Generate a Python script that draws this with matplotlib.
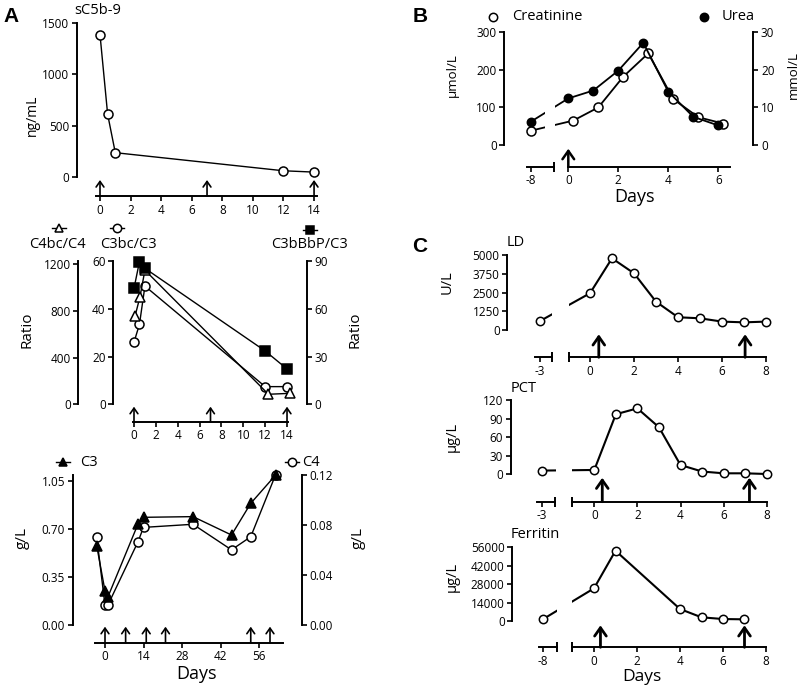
import matplotlib.pyplot as plt
from matplotlib.lines import Line2D

W, H = 800, 685

plt.rcParams['font.family'] = ['Open Sans', 'DejaVu Sans']
plt.rcParams['axes.linewidth'] = 1.4
plt.rcParams['xtick.major.width'] = 1.2
plt.rcParams['ytick.major.width'] = 1.2
plt.rcParams['xtick.major.size'] = 3.5
plt.rcParams['ytick.major.size'] = 3.5
plt.rcParams['xtick.labelsize'] = 8.5
plt.rcParams['ytick.labelsize'] = 8.5
plt.rcParams['xtick.major.pad'] = 2
plt.rcParams['ytick.major.pad'] = 2

# ---- panel A, sC5b-9 ----
sc5b9_days = [0, 0.5, 1, 12, 14]
sc5b9 = [1390, 610, 235, 58, 45]
sc5b9_doses = [0, 7, 14]

# ---- panel A, activation ratios ----
ratio_days = [0, 0.5, 1, 12, 14]
ratio_days_c4 = [0.1, 0.55, 1, 12.3, 14.3]
c4bc_c4 = [757, 923, 1150, 86, 94]
c3bc_c3 = [26, 33.5, 49.5, 7.4, 7.4]
c3bbbp_c3 = [72.8, 89.6, 85.4, 33.5, 22.2]
ratio_doses = [0, 7, 14]

# ---- panel A, C3 / C4 ----
comp_days = [-3, 0, 1, 12, 14, 32, 46, 53, 62]
c3 = [0.574, 0.246, 0.20, 0.734, 0.783, 0.788, 0.654, 0.885, 1.09]
c4 = [0.070, 0.0155, 0.0155, 0.0665, 0.078, 0.0805, 0.060, 0.0705, 0.12]
comp_doses = [0, 7.5, 15, 22, 53, 60]

# ---- panel B ----
urea_days = [-8, 0, 1, 2, 3, 4, 5, 6]
urea = [6.2, 12.4, 14.5, 19.8, 27.2, 14.2, 7.5, 5.2]
creat_days = [-8, 0.2, 1.2, 2.2, 3.2, 4.2, 5.2, 6.2]
creatinine = [38, 65, 100, 182, 244, 122, 74, 57]
renal_doses = [0]

# ---- panel C ----
ld_days = [-3, 0, 1, 2, 3, 4, 5, 6, 7, 8]
ld = [600, 2450, 4780, 3780, 1890, 850, 780, 560, 510, 560]
ld_doses = [0.4, 7.05]
pct_days = [-3, 0, 1, 2, 3, 4, 5, 6, 7, 8]
pct = [6, 7, 97, 106.5, 76, 15, 4.5, 1.6, 1.6, 0.5]
pct_doses = [0.37, 7.2]
fer_days = [-8, 0, 1, 4, 5, 6, 7]
ferritin = [1500, 24800, 53400, 9100, 2800, 1500, 1260]
fer_doses = [0.3, 7.0]

fig = plt.figure(figsize=(W / 100, H / 100), dpi=100)


def ftext(x, y, s, **kw):
    fig.text(x / W, 1 - y / H, s, **kw)


def frame(box, x0, ppd, y0, ppu):
    left, top, right, bottom = box
    ax = fig.add_axes([left / W, 1 - bottom / H, (right - left) / W, (bottom - top) / H])
    ax.set_xlim((left - x0) / ppd, (right - x0) / ppd)
    ax.set_ylim((y0 - bottom) / ppu, (y0 - top) / ppu)
    for side in ['top', 'right']:
        ax.spines[side].set_visible(False)
    ax.patch.set_visible(False)
    return ax


def yaxis(ax, ymax, ticks, labels=None):
    ax.spines['left'].set_bounds(0, ymax)
    ax.set_yticks(ticks, labels)


def twin(ax, box, y0, ppu, ymax, ticks, labels=None, side='right', outward=0):
    left, top, right, bottom = box
    t = ax.twinx()
    t.set_ylim((y0 - bottom) / ppu, (y0 - top) / ppu)
    for s in t.spines.values():
        s.set_visible(False)
    sp = t.spines[side]
    sp.set_visible(True)
    sp.set_bounds(0, ymax)
    if outward:
        sp.set_position(('outward', outward))
    t.yaxis.set_ticks_position(side)
    t.yaxis.set_label_position(side)
    t.set_yticks(ticks, labels)
    return t


def xaxis(ax, lo, hi, ticks, labels=None):
    ax.spines['bottom'].set_bounds(lo, hi)
    ax.set_xticks(ticks, labels)


def stub(ax, lo, hi, main_cap=None):
    tr = ax.get_xaxis_transform()
    ax.plot([lo, hi], [0, 0], color='k', lw=1.4, transform=tr, clip_on=False)
    caps = [hi] if main_cap is None else [hi, main_cap]
    ax.plot(caps, [0] * len(caps), ls='none', marker='|', ms=7, mew=1.4,
            color='k', transform=tr, clip_on=False)


def arrows(ax, days, h_px, lw, ms):
    tr = ax.get_xaxis_transform()
    h = h_px / ax.bbox.height
    for d in days:
        ax.annotate('', xy=(d, h), xytext=(d, 0), xycoords=tr, textcoords=tr,
                    annotation_clip=False,
                    arrowprops=dict(arrowstyle='->,head_length=0.5,head_width=0.35',
                                    lw=lw, color='k', shrinkA=0, shrinkB=0,
                                    mutation_scale=ms))


def series(ax, x, y, marker, filled, lw=1.0, ms=6.5, gap=None):
    ax.plot(x, y, color='k', lw=lw, zorder=2, clip_on=False)
    if gap:
        lo, hi = ax.get_ylim()
        ax.axvspan(gap[0], gap[1], ymin=(0 - lo) / (hi - lo) + 0.02, ymax=1,
                   color='white', lw=0, zorder=2.5)
    ax.plot(x, y, ls='none', marker=marker, ms=ms, mfc='k' if filled else 'w',
            mec='k', mew=1.1, zorder=3, clip_on=False)


def shift(days, pos):
    # place the pre-treatment day on the broken part of the axis
    return [pos if d < -1 else d for d in days]


def key(x, y, marker, filled, half=0):
    xs = [x - half, x, x + half] if half else [x]
    fig.add_artist(Line2D([v / W for v in xs], [1 - y / H] * len(xs),
                          transform=fig.transFigure, color='k', lw=1.0,
                          marker=marker, markevery=[len(xs) // 2], ms=6,
                          mfc='k' if filled else 'w', mec='k', mew=1.1))


# ================= A: sC5b-9 =================
box = (77, 23.3, 318, 196)
ax = frame(box, 100, 15.29, 176.7, 153.3 / 1500)
yaxis(ax, 1500, [0, 500, 1000, 1500])
xaxis(ax, -0.25, 14.2, range(0, 15, 2))
series(ax, sc5b9_days, sc5b9, 'o', False)
arrows(ax, sc5b9_doses, 16, 1.2, 8)
ftext(74, 11, 'sC5b-9', fontsize=10.5, ha='left', va='center')
ftext(32, 115, 'ng/mL', fontsize=10, rotation=90, ha='center', va='center')

# ================= A: ratios =================
box = (113.3, 261, 306.7, 421.7)
ax = frame(box, 134, 10.93, 404.3, 143.3 / 60)
yaxis(ax, 60, [0, 20, 40, 60])
xaxis(ax, -0.1, 14.05, range(0, 15, 2))
outer = twin(ax, box, 404.3, 140 / 1200, 1228, [0, 400, 800, 1200],
             side='left', outward=25.2)
right = twin(ax, box, 404.3, 143.3 / 90, 90, [0, 30, 60, 90])
series(ax, ratio_days, c3bc_c3, 'o', False)
series(outer, ratio_days_c4, c4bc_c4, '^', False)
series(right, ratio_days, c3bbbp_c3, 's', True)
arrows(ax, ratio_doses, 15, 1.2, 8)
key(59, 228, '^', False, 7)
key(117, 228, 'o', False, 7)
key(310, 230, 's', True, 7)
ftext(57, 245, 'C4bc/C4', fontsize=10.5, ha='center', va='center')
ftext(128, 245, 'C3bc/C3', fontsize=10.5, ha='center', va='center')
ftext(310, 245, 'C3bBbP/C3', fontsize=10.5, ha='center', va='center')
ftext(27, 330, 'Ratio', fontsize=11, rotation=90, ha='center', va='center')
ftext(355, 330, 'Ratio', fontsize=11, rotation=90, ha='center', va='center')

# ================= A: C3 / C4 =================
box = (72.7, 475, 301.7, 642.7)
ax = frame(box, 105, 2.75, 624.7, 144 / 1.05)
yaxis(ax, 1.09, [0, 0.35, 0.70, 1.05], ['0.00', '0.35', '0.70', '1.05'])
xaxis(ax, -3.64, 64.6, [0, 14, 28, 42, 56])
right = twin(ax, box, 624.7, 149.7 / 0.12, 0.12, [0, 0.04, 0.08, 0.12],
             ['0.00', '0.04', '0.08', '0.12'])
series(right, comp_days, c4, 'o', False)
series(ax, comp_days, c3, '^', True)
ax.set_zorder(right.get_zorder() + 1)
arrows(ax, comp_doses, 16, 1.2, 8)
key(63, 462, '^', True, 7)
key(292, 462, 'o', False, 7)
ftext(80, 462, 'C3', fontsize=10.5, ha='left', va='center')
ftext(302, 462, 'C4', fontsize=10.5, ha='left', va='center')
ftext(22, 538, 'g/L', fontsize=11, rotation=90, ha='center', va='center')
ftext(358, 538, 'g/L', fontsize=11, rotation=90, ha='center', va='center')
ftext(196, 674, 'Days', fontsize=13, ha='center', va='center')

# ================= B =================
box = (504.3, 32.3, 753.3, 166.7)
ax = frame(box, 568.3, 25, 145, 112.7 / 300)
yaxis(ax, 300, [0, 100, 200, 300])
xaxis(ax, 0, 6.47, [-1.5, 0, 2, 4, 6], ['-8', '0', '2', '4', '6'])
stub(ax, -1.66, -0.57)
right = twin(ax, box, 145, 112.7 / 30, 30, [0, 10, 20, 30])
series(ax, shift(creat_days, -1.5), creatinine, 'o', False, lw=1.3, gap=(-0.93, -0.53))
series(right, shift(urea_days, -1.5), urea, 'o', True, lw=1.3, ms=6, gap=(-0.93, -0.53))
arrows(ax, renal_doses, 18, 1.8, 12)
key(493, 17, 'o', False)
key(704, 17, 'o', True)
ftext(512, 17, 'Creatinine', fontsize=10.5, ha='left', va='center')
ftext(722, 17, 'Urea', fontsize=10.5, ha='left', va='center')
ftext(452, 75, 'µmol/L', fontsize=9.5, rotation=90, ha='center', va='center')
ftext(793, 75, 'mmol/L', fontsize=9.5, rotation=90, ha='center', va='center')
ftext(635, 197, 'Days', fontsize=13, ha='center', va='center')

# ================= C: LD =================
box = (507.3, 255, 770, 357.3)
ax = frame(box, 590, 22, 330, 75 / 5000)
yaxis(ax, 5000, [0, 1250, 2500, 3750, 5000])
xaxis(ax, -0.94, 8.0, [-2.27, 0, 2, 4, 6, 8], ['-3', '0', '2', '4', '6', '8'])
stub(ax, -2.5, -1.74, main_cap=-0.94)
series(ax, shift(ld_days, -2.27), ld, 'o', False, lw=1.5, ms=6, gap=(-1.74, -0.97))
arrows(ax, ld_doses, 23, 2, 12)
ftext(507, 242, 'LD', fontsize=10.5, ha='left', va='center')
ftext(447, 282, 'U/L', fontsize=10.5, rotation=90, ha='center', va='center')

# ================= C: PCT =================
box = (511, 400, 770, 501.7)
ax = frame(box, 594.3, 21.55, 474.3, 74.3 / 120)
yaxis(ax, 120, [0, 30, 60, 90, 120])
xaxis(ax, -1.05, 8.0, [-2.44, 0, 2, 4, 6, 8], ['-3', '0', '2', '4', '6', '8'])
stub(ax, -2.64, -1.82, main_cap=-1.05)
series(ax, shift(pct_days, -2.44), pct, 'o', False, lw=1.5, ms=6, gap=(-1.78, -1.05))
arrows(ax, pct_doses, 24, 2, 12)
ftext(511, 388, 'PCT', fontsize=10.5, ha='left', va='center')
ftext(452, 437, 'µg/L', fontsize=10.5, rotation=90, ha='center', va='center')

# ================= C: Ferritin =================
box = (512.3, 547.3, 770, 647.3)
ax = frame(box, 594, 21.5, 621, 73.7 / 56000)
yaxis(ax, 56000, [0, 14000, 28000, 42000, 56000])
xaxis(ax, -1.04, 8.0, [-2.36, 0, 2, 4, 6, 8], ['-8', '0', '2', '4', '6', '8'])
stub(ax, -2.54, -1.73, main_cap=-1.04)
series(ax, shift(fer_days, -2.36), ferritin, 'o', False, lw=1.5, ms=6, gap=(-1.73, -1.04))
arrows(ax, fer_doses, 22, 2, 12)
ftext(511, 534, 'Ferritin', fontsize=10.5, ha='left', va='center')
ftext(452, 577, 'µg/L', fontsize=10.5, rotation=90, ha='center', va='center')
ftext(642, 677, 'Days', fontsize=12.5, ha='center', va='center')

# panel letters
for letter, x, y in [('A', 11, 16), ('B', 420, 17), ('C', 420, 246)]:
    ftext(x, y, letter, fontsize=15, fontweight='bold', family='Liberation Sans',
          ha='center', va='center')

fig.savefig('out.png', dpi=100)
